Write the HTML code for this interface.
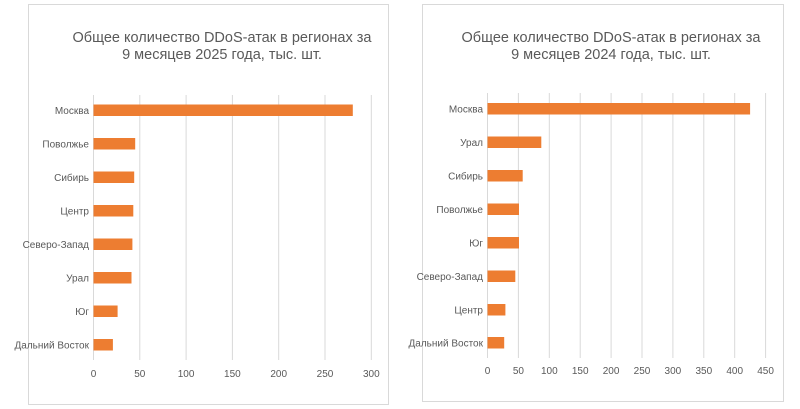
<!DOCTYPE html>
<html><head><meta charset="utf-8"><style>
html,body{margin:0;padding:0;background:#fff;}
svg{display:block;font-family:"Liberation Sans","Noto Sans CJK SC",sans-serif;}
</style></head><body>
<svg width="800" height="409" viewBox="0 0 800 409" xmlns="http://www.w3.org/2000/svg">
<rect x="0" y="0" width="800" height="409" fill="#fff"/>
<!-- Left chart -->
<rect x="28.5" y="4.5" width="360" height="400" fill="#fff" stroke="#d9d9d9"/>
<g fill="#595959" font-size="14.5" text-anchor="middle">
<text x="222" y="42">Общее количество DDoS-атак в регионах за</text>
<text x="222" y="59">9 месяцев 2025 года, тыс. шт.</text>
</g>
<g stroke="#d9d9d9" stroke-width="1">
<line x1="93.5" y1="95" x2="93.5" y2="360"/>
<line x1="139.8" y1="95" x2="139.8" y2="360"/>
<line x1="186.1" y1="95" x2="186.1" y2="360"/>
<line x1="232.4" y1="95" x2="232.4" y2="360"/>
<line x1="278.7" y1="95" x2="278.7" y2="360"/>
<line x1="325" y1="95" x2="325" y2="360"/>
<line x1="371.3" y1="95" x2="371.3" y2="360"/>
</g>
<g fill="#ed7d31">
<rect x="93.5" y="104.5" width="259.3" height="11.5"/>
<rect x="93.5" y="138" width="41.7" height="11.5"/>
<rect x="93.5" y="171.5" width="40.7" height="11.5"/>
<rect x="93.5" y="205" width="39.8" height="11.5"/>
<rect x="93.5" y="238.5" width="38.9" height="11.5"/>
<rect x="93.5" y="272" width="38" height="11.5"/>
<rect x="93.5" y="305.5" width="24.1" height="11.5"/>
<rect x="93.5" y="339" width="19.4" height="11.5"/>
</g>
<g fill="#595959" font-size="10" text-anchor="end">
<text x="89" y="114">Москва</text>
<text x="89" y="147.5">Поволжье</text>
<text x="89" y="181">Сибирь</text>
<text x="89" y="214.5">Центр</text>
<text x="89" y="248">Северо-Запад</text>
<text x="89" y="281.5">Урал</text>
<text x="89" y="315">Юг</text>
<text x="89" y="348.5">Дальний Восток</text>
</g>
<g fill="#595959" font-size="10" text-anchor="middle">
<text x="93.5" y="377">0</text>
<text x="139.8" y="377">50</text>
<text x="186.1" y="377">100</text>
<text x="232.4" y="377">150</text>
<text x="278.7" y="377">200</text>
<text x="325" y="377">250</text>
<text x="371.3" y="377">300</text>
</g>
<!-- Right chart -->
<rect x="422.5" y="4.5" width="361" height="397" fill="#fff" stroke="#d9d9d9"/>
<g fill="#595959" font-size="14.5" text-anchor="middle">
<text x="611" y="42">Общее количество DDoS-атак в регионах за</text>
<text x="611" y="59">9 месяцев 2024 года, тыс. шт.</text>
</g>
<g stroke="#d9d9d9" stroke-width="1">
<line x1="487.5" y1="93" x2="487.5" y2="358"/>
<line x1="518.4" y1="93" x2="518.4" y2="358"/>
<line x1="549.3" y1="93" x2="549.3" y2="358"/>
<line x1="580.2" y1="93" x2="580.2" y2="358"/>
<line x1="611.1" y1="93" x2="611.1" y2="358"/>
<line x1="642" y1="93" x2="642" y2="358"/>
<line x1="672.9" y1="93" x2="672.9" y2="358"/>
<line x1="703.8" y1="93" x2="703.8" y2="358"/>
<line x1="734.7" y1="93" x2="734.7" y2="358"/>
<line x1="765.6" y1="93" x2="765.6" y2="358"/>
</g>
<g fill="#ed7d31">
<rect x="487.5" y="103" width="262.6" height="11.5"/>
<rect x="487.5" y="136.5" width="53.8" height="11.5"/>
<rect x="487.5" y="170" width="35.2" height="11.5"/>
<rect x="487.5" y="203.5" width="31.5" height="11.5"/>
<rect x="487.5" y="237" width="31.5" height="11.5"/>
<rect x="487.5" y="270.5" width="27.8" height="11.5"/>
<rect x="487.5" y="304" width="17.9" height="11.5"/>
<rect x="487.5" y="337" width="16.7" height="11.5"/>
</g>
<g fill="#595959" font-size="10" text-anchor="end">
<text x="483" y="112.5">Москва</text>
<text x="483" y="146">Урал</text>
<text x="483" y="179.5">Сибирь</text>
<text x="483" y="213">Поволжье</text>
<text x="483" y="246.5">Юг</text>
<text x="483" y="280">Северо-Запад</text>
<text x="483" y="313.5">Центр</text>
<text x="483" y="346.5">Дальний Восток</text>
</g>
<g fill="#595959" font-size="10" text-anchor="middle">
<text x="487.5" y="374">0</text>
<text x="518.4" y="374">50</text>
<text x="549.3" y="374">100</text>
<text x="580.2" y="374">150</text>
<text x="611.1" y="374">200</text>
<text x="642" y="374">250</text>
<text x="672.9" y="374">300</text>
<text x="703.8" y="374">350</text>
<text x="734.7" y="374">400</text>
<text x="765.6" y="374">450</text>
</g>
</svg>
</body></html>
